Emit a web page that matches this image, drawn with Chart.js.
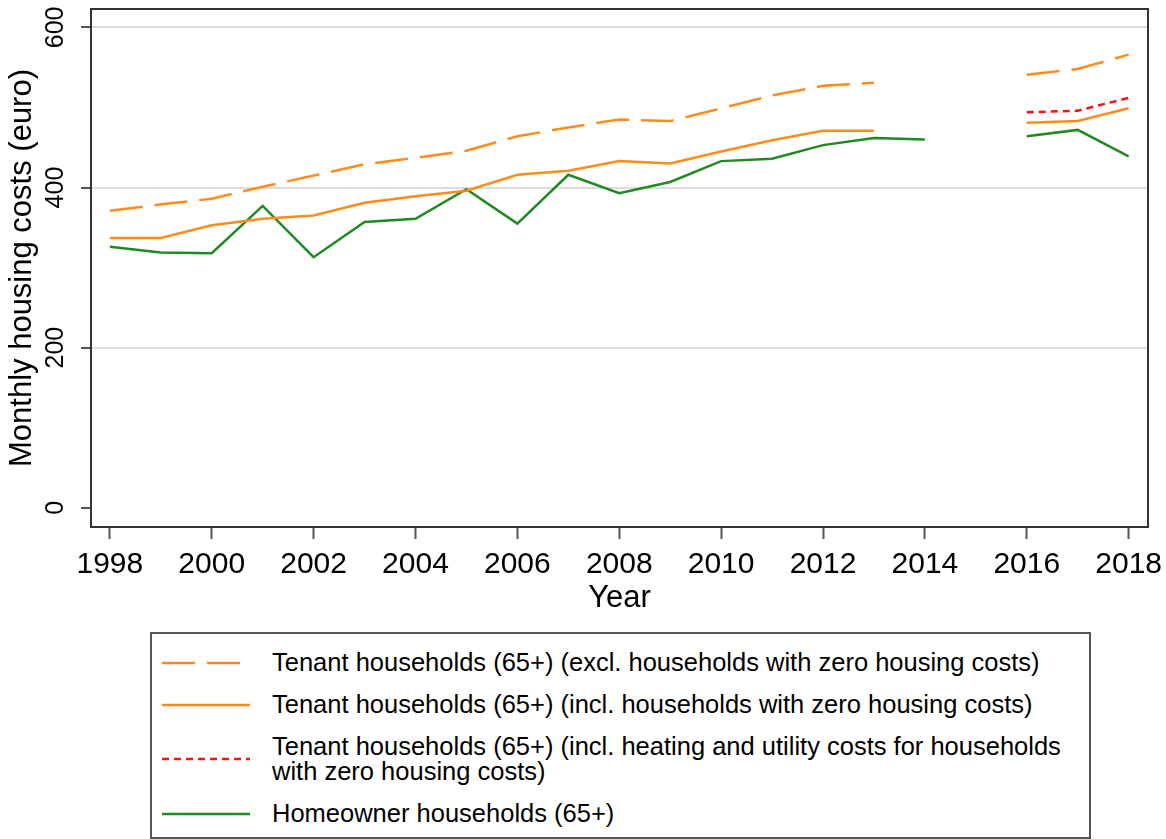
<!DOCTYPE html>
<html>
<head>
<meta charset="utf-8">
<script src="https://cdn.jsdelivr.net/npm/chart.js@4"></script>
<style>
  html, body { margin: 0; padding: 0; background: #fff; }
  body { width: 1166px; height: 839px; position: relative; overflow: hidden; font-family: 'Liberation Sans', Arial, sans-serif; }
  #chart { position: absolute; left: 0; top: 0; }
  #legend {
    position: absolute; left: 150px; top: 632px; width: 941px; height: 207px;
    box-sizing: border-box; border: 2px solid #555; padding-top: 16px;
  }
  .item { display: flex; align-items: center; margin-bottom: 17px; }
  .item svg { margin-left: 10px; flex: none; }
  .item span { margin-left: 20px; font-size: 25.5px; line-height: 25px; color: #000; white-space: pre-line; }
</style>
</head>
<body>
<canvas id="chart" width="1166" height="632"></canvas>
<div id="legend"></div>
<script>
const years = [1998, 1999, 2000, 2001, 2002, 2003, 2004, 2005, 2006, 2007, 2008,
               2009, 2010, 2011, 2012, 2013, 2014, 2015, 2016, 2017, 2018];

// monthly housing costs in euro, null = no value that year
const tenantExcl   = [371, 379, 386, 401, 415, 429, 437, 446, 464, 475, 485, 483, 499, 515, 527, 531, null, null, 541, 548, 566];
const tenantIncl   = [337, 337, 353, 361, 365, 381, 389, 396, 416, 421, 433, 430, 445, 459, 471, 471, null, null, 481, 483, 499];
const tenantHeat   = [null, null, null, null, null, null, null, null, null, null, null, null, null, null, null, null, null, null, 494, 496, 512];
const homeowner    = [326, 319, 318, 377, 313, 357, 361, 398, 355, 416, 393, 407, 433, 436, 453, 462, 460, null, 464, 472, 439];

const seriesLabels = [
  'Tenant households (65+) (excl. households with zero housing costs)',
  'Tenant households (65+) (incl. households with zero housing costs)',
  'Tenant households (65+) (incl. heating and utility costs for households\nwith zero housing costs)',
  'Homeowner households (65+)'
];

const xTicks = [1998, 2000, 2002, 2004, 2006, 2008, 2010, 2012, 2014, 2016, 2018];
const yTicks = [0, 200, 400, 600];

const ORANGE = '#ff8c1a';
const GREEN = '#1f8a1f';
const RED = '#ff1010';
const FONT = "'Liberation Sans', Arial, sans-serif";

function pts(vals) {
  return years.map((yr, i) => ({ x: yr, y: vals[i] }));
}

function line(label, vals, color, dash) {
  return {
    label: label,
    data: pts(vals),
    borderColor: color,
    backgroundColor: color,
    borderWidth: 2.5,
    borderDash: dash,
    pointRadius: 0,
    tension: 0,
    fill: false,
    spanGaps: false
  };
}

// plot region frame (top and right sides)
const frame = {
  id: 'frame',
  afterDraw(chart) {
    const { ctx, chartArea: a } = chart;
    ctx.save();
    ctx.strokeStyle = '#333';
    ctx.lineWidth = 2;
    ctx.beginPath();
    ctx.moveTo(a.left, a.top);
    ctx.lineTo(a.right, a.top);
    ctx.lineTo(a.right, a.bottom);
    ctx.stroke();
    ctx.restore();
  }
};

const chart = new Chart(document.getElementById('chart'), {
  type: 'line',
  data: {
    datasets: [
      line(seriesLabels[0], tenantExcl, ORANGE, [33, 12]),
      line(seriesLabels[1], tenantIncl, ORANGE, []),
      line(seriesLabels[2], tenantHeat, RED, [7, 5]),
      line(seriesLabels[3], homeowner, GREEN, [])
    ]
  },
  options: {
    responsive: false,
    animation: false,
    layout: { padding: { top: 9, right: 18, left: 0, bottom: 0 } },
    plugins: {
      legend: { display: false },
      tooltip: { enabled: false }
    },
    scales: {
      x: {
        type: 'linear',
        min: 1997.63,
        max: 2018.38,
        afterBuildTicks: s => { s.ticks = xTicks.map(v => ({ value: v })); },
        afterFit: s => { s.height = 105; s.paddingLeft = 0; s.paddingRight = 0; },
        ticks: {
          font: { family: FONT, size: 30 },
          color: '#000',
          padding: 8,
          maxRotation: 0,
          autoSkip: false,
          callback: v => String(v)
        },
        grid: { drawOnChartArea: false, drawTicks: true, tickLength: 12, tickColor: '#555', tickWidth: 2 },
        border: { color: '#333', width: 2 },
        title: {
          display: true,
          text: 'Year',
          color: '#000',
          font: { family: FONT, size: 31 },
          padding: { top: 0, bottom: 15 }
        }
      },
      y: {
        min: -24,
        max: 623,
        afterBuildTicks: s => { s.ticks = yTicks.map(v => ({ value: v })); },
        afterFit: s => { s.width = 91; s.paddingTop = 0; s.paddingBottom = 0; },
        ticks: {
          font: { family: FONT, size: 25 },
          color: '#000',
          minRotation: 90,
          maxRotation: 90,
          crossAlign: 'center',
          padding: 4
        },
        grid: {
          color: c => (c.tick && c.tick.value === 0 ? 'rgba(0,0,0,0)' : '#dcdcdc'),
          lineWidth: 2,
          tickLength: 10,
          tickColor: '#555',
          tickWidth: 2
        },
        border: { color: '#333', width: 2 },
        title: {
          display: true,
          text: 'Monthly housing costs (euro)',
          color: '#000',
          font: { family: FONT, size: 31 },
          padding: { top: 4, bottom: 0 }
        }
      }
    }
  },
  plugins: [frame]
});

// legend in a box below the plot, built from the chart's datasets
const legend = document.getElementById('legend');
chart.data.datasets.forEach(ds => {
  const item = document.createElement('div');
  item.className = 'item';
  const dash = ds.borderDash && ds.borderDash.length ? ds.borderDash.join(' ') : 'none';
  item.innerHTML =
    '<svg width="90" height="10"><line x1="0" y1="5" x2="88" y2="5" stroke="' + ds.borderColor +
    '" stroke-width="2.5" stroke-dasharray="' + dash + '"/></svg>';
  const span = document.createElement('span');
  span.textContent = ds.label;
  item.appendChild(span);
  legend.appendChild(item);
});
</script>
</body>
</html>
